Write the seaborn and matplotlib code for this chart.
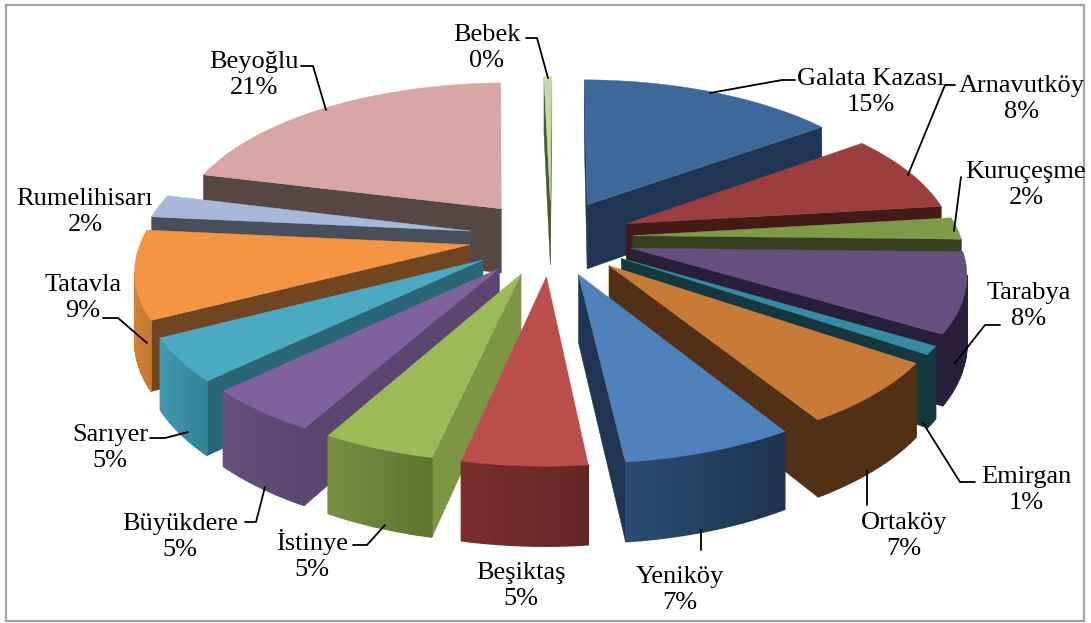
import numpy as np
import matplotlib
matplotlib.use("Agg")
import matplotlib.pyplot as plt
from matplotlib.patches import Polygon, Rectangle
import seaborn as sns

# ---- data
names = ["Galata Kazası", "Arnavutköy", "Kuruçeşme", "Tarabya", "Emirgan", "Ortaköy", "Yeniköy",
         "Beşiktaş", "İstinye", "Büyükdere", "Sarıyer", "Tatavla", "Rumelihisarı", "Beyoğlu", "Bebek"]
values = [14.85, 8.15, 2.3, 8.3, 0.9, 6.67, 7.06, 5.13, 4.66, 4.76, 4.52, 9.2, 2.4, 20.7, 0.45]

# ---- colours
top_cols = ["#3D6899", "#9A3F3D", "#7E9B47", "#674F82", "#378BA2", "#C77B36", "#4F81BD", "#BC4F4C",
            "#9BBB59", "#80629E", "#4BA9C4", "#F49544", "#A7B8DA", "#D7A6A5", "#C6D9A6"]
wall_cols = ["#1F3552", "#431A18", "#37401E", "#2A1F3B", "#15383F", "#523015", "#1F3552", "#5F2322",
             "#7C9646", "#5B4571", "#2B6677", "#704620", "#474F5C", "#564644", "#4A5A33"]
rim_a = ["#1F3552", "#431A18", "#37401E", "#2A1F3B", "#15383F", "#523015", "#1D334E", "#622725",
         "#5F7530", "#5B4571", "#338299", "#C77A30", "#474F5C", "#564644", "#4A5A33"]
rim_b = ["#1F3552", "#431A18", "#37401E", "#2A1F3B", "#15383F", "#523015", "#2B4B73", "#7A2E2D",
         "#748E42", "#67507F", "#429AB1", "#E08A3A", "#474F5C", "#564644", "#4A5A33"]

# ---- layout (pixels)
CX, CY, FX, GY, KP, DEPTH, EXPL = 551.0, 237.5, 328.0, 151.0, 0.14, 66.0, 0.25
START = 0.3
TEXT_DY = 2.0
label_xy = {"Bebek": (487, 46), "Beyoğlu": (254, 73), "Galata Kazası": (871, 90), "Arnavutköy": (1022, 97),
            "Kuruçeşme": (1026, 183), "Tarabya": (1029, 304), "Emirgan": (1026, 488), "Ortaköy": (904, 534),
            "Yeniköy": (680, 588), "Beşiktaş": (521, 584), "İstinye": (312, 553), "Büyükdere": (180, 535),
            "Sarıyer": (110, 446), "Tatavla": (83, 296), "Rumelihisarı": (85, 210)}
leaders = [[(526, 38), (537, 38), (548, 78)], [(301, 66), (313, 66), (326, 110)],
           [(795, 80), (782, 80), (710, 93)], [(955, 85), (945, 85), (908, 175)],
           [(961, 177), (954, 231)], [(1000, 325), (985, 325), (955, 363)],
           [(975, 482), (960, 482), (923, 423)], [(867, 505), (867, 470)], [(701, 550), (701, 530)],
           [(353, 545), (367, 545), (385, 525)], [(245, 522), (256, 522), (265, 487)],
           [(150, 438), (165, 438), (188, 432)], [(103, 318), (118, 318), (147, 343)]]

sns.set_theme(style="white")
plt.rcParams["font.family"] = ["Liberation Serif", "DejaVu Serif"]

fig = plt.figure(figsize=(10.91, 6.23), dpi=100, facecolor="white")
ax = fig.add_axes([0, 0, 1, 1])
ax.set_xlim(0, 1091)
ax.set_ylim(623, 0)
ax.axis("off")
ax.add_patch(Rectangle((6, 5), 1078, 616, fill=False, ec="#A3A3A3", lw=1.6, zorder=0))


def proj(X, Y, down=0.0):
    w = 1 + KP * Y
    return CX + FX * X / w, CY - GY * Y / w + down * DEPTH / w


def face(ax, pts, col, z, lw=0.3):
    ax.add_patch(Polygon(pts, closed=True, fc=col, ec=col, lw=lw, zorder=z))


def mix(a, b, t):
    a, b = np.array(matplotlib.colors.to_rgb(a)), np.array(matplotlib.colors.to_rgb(b))
    return tuple(a + (b - a) * t)


total = sum(values)
edges = START + np.concatenate([[0], np.cumsum(values)]) * 360 / total
order = np.argsort([-np.cos(np.radians((edges[i] + edges[i + 1]) / 2)) for i in range(len(values))])

for rank, i in enumerate(order):
    t1, t2 = edges[i], edges[i + 1]
    tm = np.radians((t1 + t2) / 2)
    ox, oy = EXPL * np.sin(tm), EXPL * np.cos(tm)
    th = np.radians(np.linspace(t1, t2, max(6, int((t2 - t1) * 1.0))))
    Xr, Yr = ox + np.sin(th), oy + np.cos(th)
    z = 2 + rank

    def wall(p, q, col, lw=0.3):
        a, b = proj(*p), proj(*q)
        if b[0] < a[0]:
            face(ax, [a, b, proj(*q, 1), proj(*p, 1)], col, z, lw)

    wall((ox, oy), (Xr[0], Yr[0]), wall_cols[i])
    wall((Xr[-1], Yr[-1]), (ox, oy), wall_cols[i])
    for j in range(len(th) - 1):
        wall((Xr[j], Yr[j]), (Xr[j + 1], Yr[j + 1]), mix(rim_a[i], rim_b[i], j / max(1, len(th) - 2)), 1.0)
    top = [proj(ox, oy)] + [proj(x, y) for x, y in zip(Xr, Yr)]
    face(ax, top, top_cols[i], z)

for pts in leaders:
    xs, ys = zip(*pts)
    ax.plot(xs, ys, color="black", lw=1.3, zorder=50, solid_joinstyle="round")

for name, v in zip(names, values):
    x, y = label_xy[name]
    ax.text(x, y + TEXT_DY, f"{name}\n{round(v):d}%", ha="center", va="center", fontsize=19, color="black",
            linespacing=1.29, zorder=60)

fig.savefig("out.png", dpi=100, facecolor="white")
